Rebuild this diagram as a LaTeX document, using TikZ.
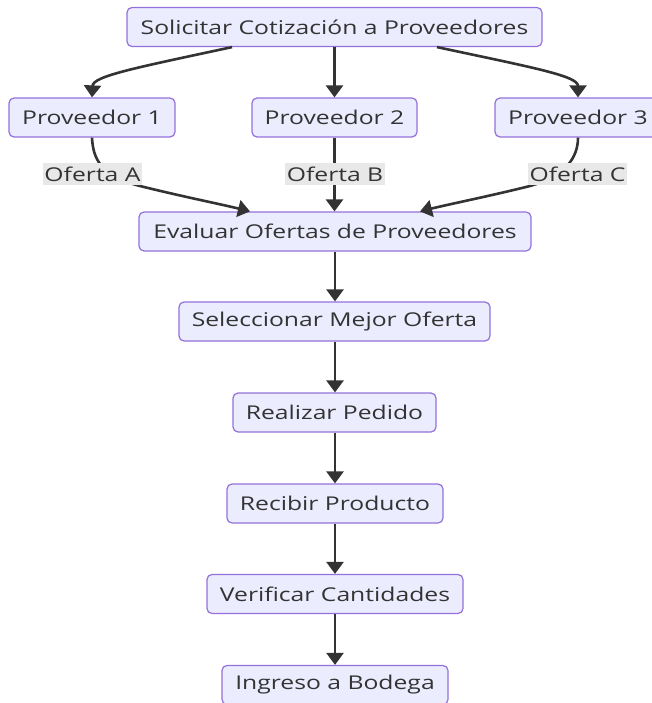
\documentclass[tikz,border=0pt]{standalone}
\usepackage{fontspec}
\setmainfont{Open Sans}[FakeStretch=1.3]
\usetikzlibrary{arrows.meta}
\definecolor{nodefill}{HTML}{ECECFF}
\definecolor{nodedraw}{HTML}{9370DB}
\definecolor{edgecol}{HTML}{333333}
\definecolor{labelbg}{HTML}{E8E8E8}
\definecolor{txt}{HTML}{333333}
\tikzset{
  box/.style={draw=nodedraw, fill=nodefill, line width=1.2pt, rounded corners=5pt,
    minimum height=39pt, inner sep=0pt, text=txt, font=\fontsize{19}{22}\selectfont},
  lbl/.style={fill=labelbg, inner sep=1.5pt, minimum height=22pt, text=txt, font=\fontsize{19}{22}\selectfont},
  arr/.style={draw=edgecol, line width=2.6pt, -{Triangle[length=12pt,width=17pt]}},
}
\begin{document}
\begin{tikzpicture}[x=1pt,y=-1pt]
\useasboundingbox (0,0) rectangle (652,703);
\node[box, minimum width=415pt] (top) at (334.5,27) {Solicitar Cotización a Proveedores};
\node[box, minimum width=166pt] (p1) at (92,117.5) {Proveedor 1};
\node[box, minimum width=165pt] (p2) at (334.5,117.5) {Proveedor 2};
\node[box, minimum width=166pt] (p3) at (578,117.5) {Proveedor 3};
\node[box, minimum width=392pt] (ev) at (335,231.5) {Evaluar Ofertas de Proveedores};
\node[box, minimum width=311pt] (se) at (334.5,321.5) {Seleccionar Mejor Oferta};
\node[box, minimum width=203pt] (rp) at (334.5,412.5) {Realizar Pedido};
\node[box, minimum width=216pt] (rc) at (335,503.5) {Recibir Producto};
\node[box, minimum width=256pt] (vc) at (335,594) {Verificar Cantidades};
\node[box, minimum width=226pt] (ib) at (335,685) {Ingreso a Bodega};

\draw[arr] (top.south -| 232,0) .. controls (135,68) and (93,76) .. (p1.north);
\draw[arr] (top.south) -- (p2.north);
\draw[arr] (top.south -| 437,0) .. controls (535,68) and (578,76) .. (p3.north);

\draw[arr] (p1.south) .. controls (93,158) and (100,176) .. (140,186) .. controls (180,196) and (220,204) .. (ev.north -| 250,0);
\draw[arr] (p2.south) -- (ev.north -| p2.south);
\draw[arr] (p3.south) .. controls (578,158) and (565,176) .. (530,186) .. controls (490,196) and (450,204) .. (ev.north -| 420,0);

\node[lbl] (la) at (92.5,174) {Oferta A};
\node[lbl] (lb) at (335,174) {Oferta B};
\node[lbl] (lc) at (577.5,174) {Oferta C};

\draw[arr] (ev.south -| 335,0) -- (se.north -| 335,0);
\draw[arr] (se.south -| 335,0) -- (rp.north -| 335,0);
\draw[arr] (rp.south -| 335,0) -- (rc.north -| 335,0);
\draw[arr] (rc.south -| 335,0) -- (vc.north -| 335,0);
\draw[arr] (vc.south -| 335,0) -- (ib.north -| 335,0);
\end{tikzpicture}
\end{document}
